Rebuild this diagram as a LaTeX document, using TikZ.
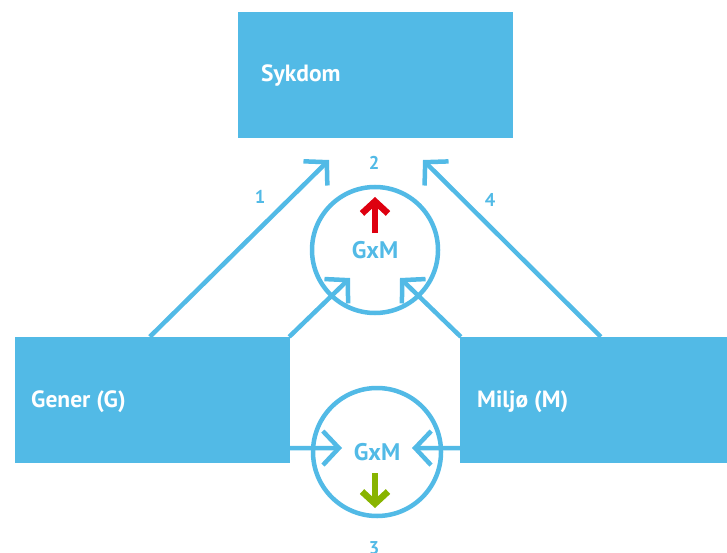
\documentclass[tikz,border=0pt]{standalone}
\usepackage{fontspec}
\setmainfont{PT Sans}
\usetikzlibrary{arrows.meta,calc}
\definecolor{skyblue}{RGB}{82,186,230}
\definecolor{upred}{RGB}{222,0,16}
\definecolor{downgreen}{RGB}{136,180,0}
\tikzset{
  panel/.style={fill=skyblue,draw=none,minimum width=#1,minimum height=126,inner sep=0},
  paneltext/.style={anchor=base west,text=white,font=\bfseries\fontsize{23.5}{26}\selectfont,inner sep=0},
  ring/.style={circle,draw=skyblue,line width=4.5,minimum size=#1,inner sep=0,
    text=skyblue,font=\bfseries\fontsize{24}{26}\selectfont},
  link/.style={draw=skyblue,line width=4.5,
    -{Straight Barb[length=16,width=34,line width=4.5]}},
  numlabel/.style={text=skyblue,font=\bfseries\fontsize{18.5}{20}\selectfont,inner sep=0},
  effect/.style={line width=6.5,-{Straight Barb[length=12,width=26,line width=6.5]}},
}
\begin{document}
\begin{tikzpicture}[x=1pt,y=-1pt]
  \useasboundingbox (0,0) rectangle (727,553);

  % the three boxes
  \node[panel=275] (sykdom) at (375.5,75) {};
  \node[panel=275] (gener) at (152.5,400) {};
  \node[panel=267] (miljo) at (593.5,400) {};
  \node[paneltext] (tsyk) at (261,82) {Sykdom};
  \node[paneltext] (tgen) at (31,407) {Gener (G)};
  \node[paneltext] (tmil) at (477,407) {Miljø (M)};

  % interaction circles
  \node[ring=126] (gxmup) at (375,250) {GxM};
  \node[ring=128] (gxmdown) at (377,452) {GxM};

  % end points of the connectors
  \coordinate (e1) at (329,160);
  \coordinate (e4) at (423,160);
  \coordinate (eg) at (350,278);
  \coordinate (em) at (400,278);
  \coordinate (hg) at (342,448);
  \coordinate (hm) at (412,448);

  % direct effects
  \draw[link] ($(gener.north west)+(135,0)$) -- (e1);
  \draw[link] ($(miljo.north west)+(141,0)$) -- (e4);
  % into the upper interaction
  \draw[link] ($(gener.north east)+(-1,0)$) -- (eg);
  \draw[link] ($(miljo.north west)+(1,0)$) -- (em);
  % into the lower interaction
  \draw[link] ($(gener.south east)+(0,-15)$) -- (hg);
  \draw[link] ($(miljo.south west)+(0,-15)$) -- (hm);

  % direction of the interaction effect
  \coordinate (rb) at (375,233);
  \coordinate (rt) at (375,197);
  \draw[effect,draw=upred] (rb) -- (rt);
  \coordinate (gt) at (375,473);
  \coordinate (gb) at (375,508);
  \draw[effect,draw=downgreen] (gt) -- (gb);

  % path numbers
  \node[numlabel] (n1) at (260,197) {1};
  \node[numlabel] (n2) at (374,163) {2};
  \node[numlabel] (n3) at (374,548) {3};
  \node[numlabel] (n4) at (490,200) {4};
\end{tikzpicture}
\end{document}
